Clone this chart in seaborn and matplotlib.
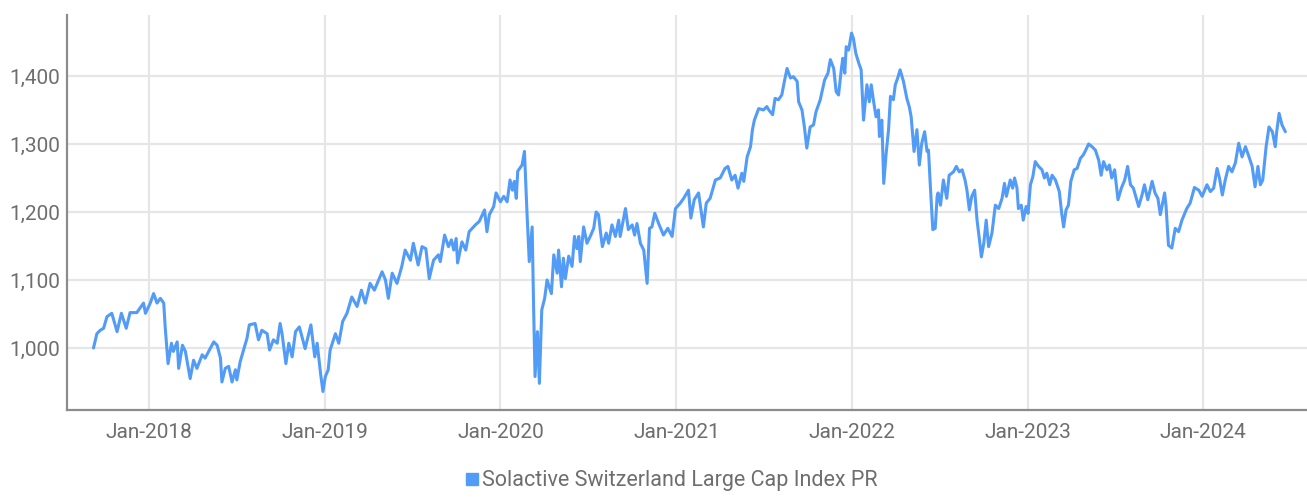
import numpy as np
import pandas as pd
import seaborn as sns
import matplotlib.pyplot as plt
from matplotlib.lines import Line2D
import matplotlib.dates as mdates
from matplotlib.ticker import FuncFormatter

# Index level (irregular sample of the daily series)
dates = [
    "2017-09-07", "2017-09-14", "2017-09-21", "2017-09-28", "2017-10-05", "2017-10-15", "2017-10-26",
    "2017-11-04", "2017-11-14", "2017-11-22", "2017-12-06", "2017-12-20", "2017-12-24",
    "2018-01-03", "2018-01-10", "2018-01-17", "2018-01-24", "2018-01-31", "2018-02-03", "2018-02-09",
    "2018-02-16", "2018-02-20", "2018-02-28", "2018-03-03", "2018-03-11", "2018-03-17", "2018-03-27",
    "2018-04-03", "2018-04-10", "2018-04-21", "2018-04-27", "2018-05-15", "2018-05-22", "2018-05-29",
    "2018-06-01", "2018-06-08", "2018-06-15", "2018-06-22", "2018-06-29", "2018-07-02", "2018-07-09",
    "2018-07-16", "2018-07-23", "2018-07-28", "2018-08-09", "2018-08-16", "2018-08-23", "2018-09-03",
    "2018-09-08", "2018-09-16", "2018-09-24", "2018-09-30", "2018-10-04", "2018-10-12", "2018-10-18",
    "2018-10-25", "2018-11-01", "2018-11-09", "2018-11-21", "2018-12-03", "2018-12-11", "2018-12-16",
    "2018-12-23", "2018-12-28",
    "2019-01-02", "2019-01-08", "2019-01-12", "2019-01-23", "2019-01-30", "2019-02-07", "2019-02-16",
    "2019-02-26", "2019-03-09", "2019-03-18", "2019-03-26", "2019-04-05", "2019-04-14", "2019-04-30",
    "2019-05-07", "2019-05-13", "2019-05-21", "2019-05-31", "2019-06-10", "2019-06-17", "2019-06-28",
    "2019-07-04", "2019-07-14", "2019-07-22", "2019-07-30", "2019-08-06", "2019-08-15", "2019-08-25",
    "2019-08-29", "2019-09-07", "2019-09-15", "2019-09-21", "2019-09-26", "2019-10-01", "2019-10-04",
    "2019-10-13", "2019-10-21", "2019-10-28", "2019-11-10", "2019-11-18", "2019-11-29", "2019-12-04",
    "2019-12-09", "2019-12-18", "2019-12-23",
    "2020-01-01", "2020-01-08", "2020-01-15", "2020-01-21", "2020-01-26", "2020-01-30", "2020-02-03",
    "2020-02-06", "2020-02-15", "2020-02-20", "2020-02-25", "2020-03-01", "2020-03-07", "2020-03-10",
    "2020-03-13", "2020-03-18", "2020-03-22", "2020-03-27", "2020-04-02", "2020-04-07", "2020-04-16",
    "2020-04-21", "2020-04-28", "2020-05-01", "2020-05-07", "2020-05-11", "2020-05-15", "2020-05-22",
    "2020-05-29", "2020-06-03", "2020-06-08", "2020-06-12", "2020-06-15", "2020-06-22", "2020-06-29",
    "2020-07-07", "2020-07-13", "2020-07-18", "2020-07-23", "2020-07-27", "2020-07-31", "2020-08-08",
    "2020-08-13", "2020-08-20", "2020-08-27", "2020-09-03", "2020-09-06", "2020-09-17", "2020-09-23",
    "2020-10-01", "2020-10-06", "2020-10-11", "2020-10-18", "2020-10-25", "2020-11-01", "2020-11-06",
    "2020-11-11", "2020-11-17", "2020-11-25", "2020-12-05", "2020-12-14", "2020-12-23", "2020-12-30",
    "2021-01-09", "2021-01-16", "2021-01-26", "2021-01-31", "2021-02-07", "2021-02-16", "2021-02-22",
    "2021-02-26", "2021-03-04", "2021-03-12", "2021-03-23", "2021-04-02", "2021-04-12", "2021-04-18",
    "2021-04-26", "2021-05-03", "2021-05-09", "2021-05-17", "2021-05-21", "2021-05-28", "2021-06-04",
    "2021-06-08", "2021-06-12", "2021-06-21", "2021-07-01", "2021-07-08", "2021-07-12", "2021-07-20",
    "2021-07-25", "2021-08-01", "2021-08-08", "2021-08-14", "2021-08-19", "2021-08-26", "2021-09-01",
    "2021-09-09", "2021-09-12", "2021-09-19", "2021-09-24", "2021-09-29", "2021-10-06", "2021-10-13",
    "2021-10-18", "2021-10-27", "2021-11-05", "2021-11-12", "2021-11-17", "2021-11-24", "2021-11-29",
    "2021-12-04", "2021-12-10", "2021-12-13", "2021-12-17", "2021-12-20", "2021-12-25", "2021-12-31",
    "2022-01-04", "2022-01-09", "2022-01-15", "2022-01-20", "2022-01-25", "2022-02-01", "2022-02-06",
    "2022-02-10", "2022-02-15", "2022-02-20", "2022-02-25", "2022-02-27", "2022-03-04", "2022-03-08",
    "2022-03-13", "2022-03-18", "2022-03-22", "2022-03-28", "2022-04-01", "2022-04-06", "2022-04-11",
    "2022-04-18", "2022-04-25", "2022-04-30", "2022-05-04", "2022-05-10", "2022-05-16", "2022-05-21",
    "2022-05-26", "2022-06-01", "2022-06-06", "2022-06-09", "2022-06-13", "2022-06-18", "2022-06-23",
    "2022-06-27", "2022-06-29", "2022-07-04", "2022-07-10", "2022-07-17", "2022-07-22", "2022-07-31",
    "2022-08-06", "2022-08-12", "2022-08-18", "2022-08-24", "2022-08-28", "2022-09-02", "2022-09-07",
    "2022-09-13", "2022-09-18", "2022-09-23", "2022-09-27", "2022-10-02", "2022-10-07", "2022-10-12",
    "2022-10-19", "2022-10-26", "2022-11-02", "2022-11-09", "2022-11-14", "2022-11-18", "2022-11-26",
    "2022-12-01", "2022-12-05", "2022-12-10", "2022-12-13", "2022-12-19", "2022-12-23", "2022-12-29",
    "2023-01-02", "2023-01-07", "2023-01-12", "2023-01-17", "2023-01-24", "2023-01-31", "2023-02-05",
    "2023-02-10", "2023-02-16", "2023-02-21", "2023-02-28", "2023-03-08", "2023-03-13", "2023-03-17",
    "2023-03-22", "2023-03-27", "2023-04-01", "2023-04-08", "2023-04-14", "2023-04-21", "2023-04-27",
    "2023-05-02", "2023-05-08", "2023-05-15", "2023-05-22", "2023-05-29", "2023-06-03", "2023-06-08",
    "2023-06-15", "2023-06-20", "2023-06-25", "2023-07-01", "2023-07-08", "2023-07-15", "2023-07-22",
    "2023-07-28", "2023-08-03", "2023-08-09", "2023-08-20", "2023-08-27", "2023-09-01", "2023-09-08",
    "2023-09-17", "2023-09-23", "2023-09-29", "2023-10-04", "2023-10-13", "2023-10-16", "2023-10-21",
    "2023-10-28", "2023-11-04", "2023-11-11", "2023-11-18", "2023-11-28", "2023-12-05", "2023-12-14",
    "2023-12-23", "2023-12-30",
    "2024-01-09", "2024-01-16", "2024-01-23", "2024-01-30", "2024-02-04", "2024-02-10", "2024-02-16",
    "2024-02-23", "2024-03-01", "2024-03-08", "2024-03-15", "2024-03-22", "2024-03-29", "2024-04-04",
    "2024-04-12", "2024-04-18", "2024-04-24", "2024-04-29", "2024-05-04", "2024-05-11", "2024-05-17",
    "2024-05-24", "2024-05-30", "2024-06-02", "2024-06-07", "2024-06-13", "2024-06-20",
]
values = [
    1000, 1021, 1026, 1029, 1046, 1051, 1024,
    1051, 1029, 1052, 1052, 1066, 1051,
    1066, 1080, 1066, 1073, 1066, 1031, 977,
    1007, 995, 1009, 970, 1004, 995, 955,
    982, 970, 990, 985, 1009, 1004, 985,
    950, 970, 973, 950, 968, 953, 980,
    997, 1014, 1034, 1036, 1012, 1026, 1021,
    997, 1012, 1007, 1036, 1021, 977, 1007,
    987, 1024, 1031, 999, 1034, 987, 1007,
    963, 936,
    958, 968, 997, 1021, 1007, 1039, 1051,
    1075, 1061, 1085, 1066, 1095, 1085, 1112,
    1100, 1073, 1110, 1095, 1120, 1144, 1129,
    1154, 1122, 1149, 1146, 1102, 1129, 1137,
    1127, 1166, 1149, 1159, 1144, 1161, 1125,
    1156, 1144, 1171, 1181, 1186, 1203, 1171,
    1196, 1208, 1228,
    1215, 1223, 1215, 1247, 1232, 1245, 1220,
    1260, 1269, 1289, 1203, 1127, 1178, 1061,
    958, 1024, 948, 1056, 1073, 1100, 1080,
    1137, 1110, 1144, 1090, 1132, 1102, 1135,
    1120, 1164, 1146, 1164, 1127, 1178, 1154,
    1166, 1176, 1200, 1196, 1171, 1149, 1169,
    1154, 1181, 1164, 1188, 1164, 1205, 1174,
    1181, 1166, 1183, 1154, 1144, 1095, 1176,
    1178, 1198, 1183, 1166, 1176, 1164, 1205,
    1213, 1220, 1232, 1191, 1218, 1228, 1198,
    1178, 1213, 1220, 1247, 1250, 1264, 1267,
    1247, 1254, 1235, 1257, 1245, 1281, 1296,
    1321, 1335, 1352, 1350, 1355, 1350, 1343,
    1367, 1365, 1372, 1394, 1411, 1397, 1399,
    1392, 1362, 1350, 1325, 1294, 1325, 1328,
    1347, 1365, 1394, 1404, 1424, 1411, 1377,
    1372, 1411, 1426, 1404, 1443, 1438, 1463,
    1455, 1433, 1419, 1409, 1335, 1387, 1362,
    1387, 1362, 1340, 1350, 1311, 1335, 1242,
    1286, 1321, 1370, 1365, 1387, 1397, 1409,
    1392, 1367, 1355, 1340, 1289, 1321, 1269,
    1301, 1318, 1289, 1291, 1237, 1174, 1176,
    1223, 1228, 1210, 1247, 1220, 1254, 1259,
    1267, 1259, 1262, 1247, 1232, 1203, 1223,
    1232, 1188, 1159, 1134, 1154, 1188, 1149,
    1169, 1210, 1205, 1220, 1242, 1223, 1247,
    1235, 1250, 1235, 1205, 1210, 1188, 1208,
    1198, 1240, 1252, 1274, 1267, 1262, 1250,
    1257, 1240, 1254, 1247, 1230, 1198, 1178,
    1203, 1210, 1245, 1262, 1264, 1279, 1284,
    1291, 1300, 1296, 1291, 1276, 1254, 1274,
    1262, 1269, 1250, 1262, 1218, 1235, 1247,
    1267, 1240, 1235, 1208, 1225, 1240, 1218,
    1245, 1228, 1220, 1196, 1228, 1208, 1151,
    1147, 1176, 1171, 1188, 1205, 1213, 1236,
    1232, 1223,
    1240, 1230, 1235, 1264, 1250, 1225, 1247,
    1267, 1259, 1272, 1301, 1281, 1296, 1284,
    1267, 1237, 1267, 1240, 1247, 1296, 1325,
    1318, 1296, 1318, 1345, 1328, 1318,
]
series_name = "Solactive Switzerland Large Cap Index PR"
year_ticks = ["2018-01-01", "2019-01-01", "2020-01-01", "2021-01-01",
              "2022-01-01", "2023-01-01", "2024-01-01"]
y_ticks = [1000, 1100, 1200, 1300, 1400]

df = pd.DataFrame({"date": pd.to_datetime(dates), "value": values})

sns.set_style("white")
plt.rcParams['font.family'] = ['Roboto', 'DejaVu Sans']

line_color = "#529BF6"
text_color = "#6E6E6E"

fig = plt.figure(figsize=(13.07, 4.98), dpi=100)
ax = fig.add_axes([0.0513, 0.1767, 0.9487, 0.7933])

sns.lineplot(data=df, x="date", y="value", ax=ax, color=line_color, linewidth=2.2, legend=False)

ax.set_xlim(pd.Timestamp("2017-07-14"), pd.Timestamp("2024-08-04"))
ax.set_ylim(908.8, 1489.7)

ax.set_xticks(pd.to_datetime(year_ticks))
ax.xaxis.set_major_formatter(mdates.DateFormatter("%b-%Y"))
ax.set_yticks(y_ticks)
ax.yaxis.set_major_formatter(FuncFormatter(lambda v, p: f"{int(v):,}"))

ax.grid(True, color="#E6E6E6", linewidth=1.6)
ax.set_axisbelow(True)
ax.tick_params(axis="both", length=0, labelsize=15, colors=text_color, pad=9)
ax.tick_params(axis="y", pad=5)

for side in ["top", "right"]:
    ax.spines[side].set_visible(False)
for side in ["left", "bottom"]:
    ax.spines[side].set_color("#8C8C8C")
    ax.spines[side].set_linewidth(1.6)

ax.set_xlabel("")
ax.set_ylabel("")

handle = Line2D([], [], marker="s", linestyle="none", markersize=9,
                markerfacecolor=line_color, markeredgecolor=line_color)
fig.legend([handle], [series_name], loc="center", bbox_to_anchor=(0.513, 0.035),
           frameon=False, fontsize=15.5, labelcolor=text_color,
           handletextpad=0.1, handlelength=0.8)

fig.savefig("out.png", dpi=100)
